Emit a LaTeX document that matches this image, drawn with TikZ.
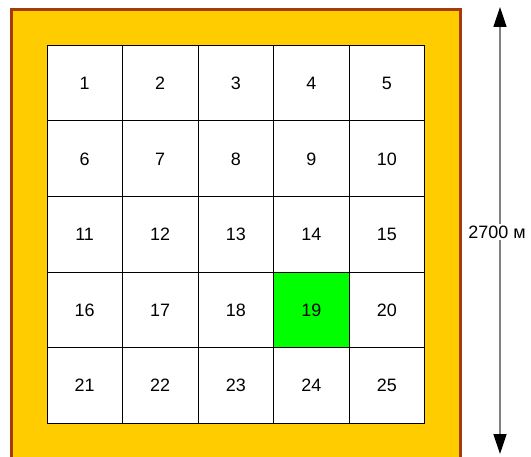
\documentclass[tikz,border=0pt]{standalone}
\usepackage{fontspec}
\setmainfont{Liberation Sans}
\usetikzlibrary{arrows.meta}
\definecolor{framefill}{HTML}{FFCC00}
\definecolor{frameline}{HTML}{A33B0A}
\definecolor{hilite}{HTML}{00FF00}
\tikzset{
  cellbox/.style={draw=black, line width=0.8bp, minimum size=75.5bp, inner sep=0pt,
    text height=12.9bp, text depth=0pt,
    anchor=north west, fill=white, font=\fontsize{18}{21}\selectfont},
  frame/.style={fill=framefill, draw=frameline, line width=3bp},
  dimline/.style={draw=gray, line width=1.5bp,
    {Triangle[length=20bp,width=13bp,color=black]}-{Triangle[length=20bp,width=13bp,color=black]}},
  dimlabel/.style={fill=white, inner sep=1.5bp, font=\fontsize{18}{21}\selectfont}
}
\begin{document}
\begin{tikzpicture}[x=1bp,y=-1bp]
\useasboundingbox (0,0) rectangle (531,457);
\begin{scope}
\clip (0,0) rectangle (531,457);
\draw[frame] (11.5,9.5) rectangle (460.5,480);
\end{scope}
\foreach \i in {0,...,4}{
  \foreach \j in {0,...,4}{
    \pgfmathtruncatemacro\n{5*\i+\j+1}
    \node[cellbox] (c\n) at ({46.5+75.56*\j},{45+75.5*\i}) {\n};
  }
}
\node[cellbox, fill=hilite] (c19) at ({46.5+75.56*3},{45+75.5*3}) {19};
\coordinate (atop) at (500,7);
\coordinate (abot) at (500,454);
\draw[dimline] (atop) -- (abot);
\node[dimlabel] (lbl) at (497,232) {2700 м};
\end{tikzpicture}
\end{document}
